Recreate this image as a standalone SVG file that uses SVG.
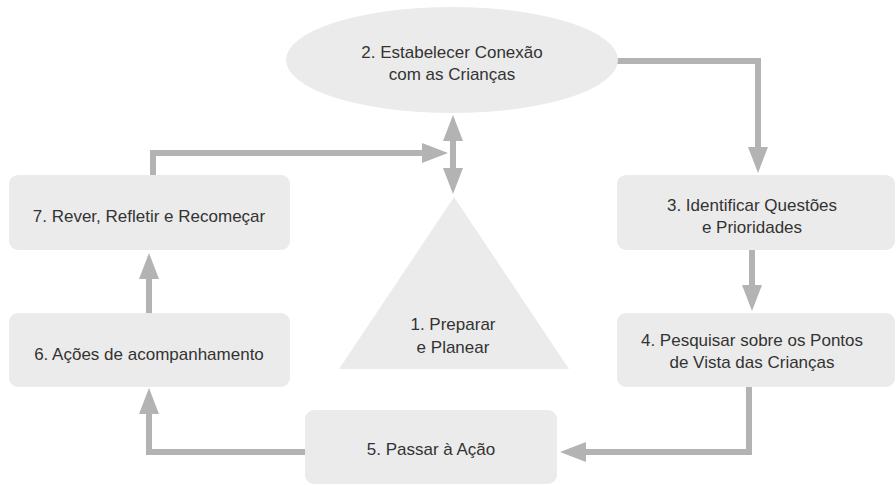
<svg xmlns="http://www.w3.org/2000/svg" width="896" height="485" viewBox="0 0 896 485">
<defs>
<style>
.n{fill:#ebebeb;}
.t{font-family:"Liberation Sans",Arial,sans-serif;font-size:17px;fill:#333;text-anchor:middle;}
.c{fill:none;stroke:#b3b3b3;stroke-width:6;}
</style>
<marker id="ah" markerUnits="userSpaceOnUse" markerWidth="26" markerHeight="20" refX="0" refY="10" orient="auto-start-reverse" viewBox="0 0 26 20">
<path d="M0,0 L26,10 L0,20 z" fill="#b3b3b3"/>
</marker>
</defs>
<rect width="896" height="485" fill="#fff"/>
<g id="connectors">
<path class="c" d="M617,61 H758 V147" marker-end="url(#ah)"/>
<path class="c" d="M752,250 V285" marker-end="url(#ah)"/>
<path class="c" d="M749,387 V452 H586" marker-end="url(#ah)"/>
<path class="c" d="M305,452 H149 V414" marker-end="url(#ah)"/>
<path class="c" d="M149,313 V279" marker-end="url(#ah)"/>
<path class="c" d="M153,175 V153 H422" marker-end="url(#ah)"/>
<path class="c" d="M453,141 V168" marker-start="url(#ah)" marker-end="url(#ah)"/>
</g>
<g id="n1">
<polygon class="n" points="454,197 569,369 339,369"/>
<text class="t" x="453" y="330">1. Preparar</text>
<text class="t" x="453" y="353">e Planear</text>
</g>
<g id="n2">
<ellipse class="n" cx="452" cy="60" rx="166" ry="53"/>
<text class="t" x="452" y="58">2. Estabelecer Conexão</text>
<text class="t" x="452" y="80">com as Crianças</text>
</g>
<g id="n3">
<rect class="n" x="617" y="175" width="278" height="75" rx="9"/>
<text class="t" x="752" y="211">3. Identificar Questões</text>
<text class="t" x="752" y="233">e Prioridades</text>
</g>
<g id="n4">
<rect class="n" x="617" y="313" width="278" height="74" rx="9"/>
<text class="t" x="752" y="346">4. Pesquisar sobre os Pontos</text>
<text class="t" x="752" y="368">de Vista das Crianças</text>
</g>
<g id="n5">
<rect class="n" x="305" y="410" width="252" height="74" rx="9"/>
<text class="t" x="431" y="455">5. Passar à Ação</text>
</g>
<g id="n6">
<rect class="n" x="9" y="313" width="281" height="74" rx="9"/>
<text class="t" x="149" y="360">6. Ações de acompanhamento</text>
</g>
<g id="n7">
<rect class="n" x="9" y="175" width="281" height="75" rx="9"/>
<text class="t" x="149" y="222">7. Rever, Refletir e Recomeçar</text>
</g>
</svg>
